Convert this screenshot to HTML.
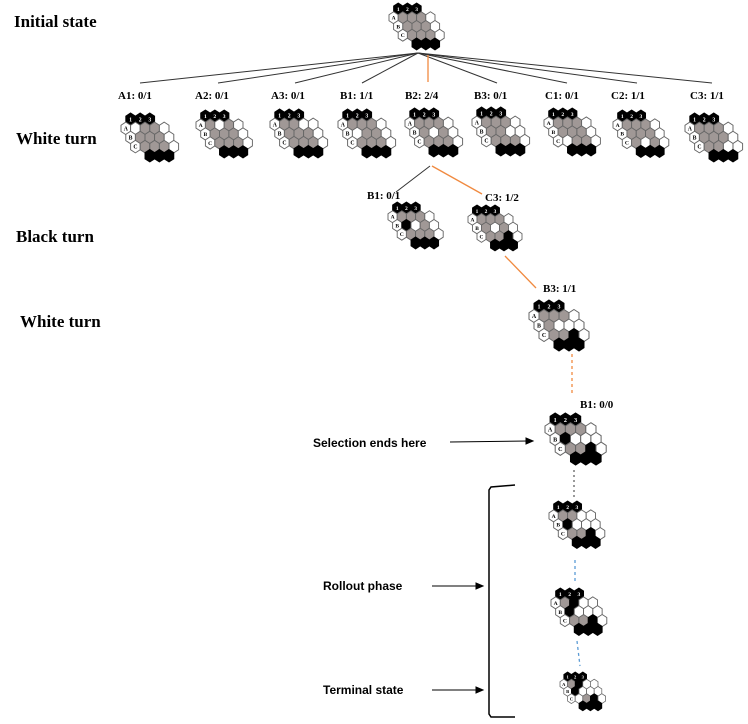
<!DOCTYPE html>
<html><head><meta charset="utf-8"><style>
html,body{margin:0;padding:0;background:#fff;width:748px;height:724px;overflow:hidden}
svg{display:block}
.t{font-family:"Liberation Serif",serif;font-weight:bold;fill:#000}
.s{font-family:"Liberation Sans",sans-serif;font-weight:bold;fill:#000;font-size:12px}
.b text{font-family:"Liberation Serif",serif;font-weight:bold;font-size:0.6px;text-anchor:middle}
.b text.w{fill:#fff}
</style></head><body>
<svg id="sv" width="748" height="724" viewBox="0 0 748 724" xmlns="http://www.w3.org/2000/svg">
<text class="t" x="14" y="27" font-size="17">Initial state</text>
<text class="t" x="16" y="144" font-size="17">White turn</text>
<text class="t" x="16" y="242" font-size="17">Black turn</text>
<text class="t" x="20" y="327" font-size="17">White turn</text>
<g stroke="#333" stroke-width="1" fill="none">
<line x1="418" y1="53" x2="140" y2="83"/><line x1="418" y1="53" x2="218" y2="83"/>
<line x1="418" y1="53" x2="295" y2="83"/><line x1="418" y1="53" x2="362" y2="83"/>
<line x1="418" y1="53" x2="497" y2="83"/><line x1="418" y1="53" x2="567" y2="83"/>
<line x1="418" y1="53" x2="637" y2="83"/><line x1="418" y1="53" x2="712" y2="83"/>
<line x1="430" y1="166" x2="396" y2="192"/>
</g>
<g stroke="#f08a40" stroke-width="1.3" fill="none">
<line x1="428" y1="55" x2="428" y2="82"/>
<line x1="432" y1="166" x2="482" y2="194"/>
<line x1="505" y1="256" x2="536" y2="288"/>
<line x1="572" y1="354" x2="572" y2="396" stroke-dasharray="3,3"/>
</g>
<line x1="574" y1="470" x2="574" y2="497" stroke="#333" stroke-dasharray="2,3"/>
<g stroke="#5b9bd5" stroke-width="1.3" stroke-dasharray="3,3">
<line x1="575" y1="560" x2="575" y2="583"/><line x1="577" y1="641" x2="580" y2="666"/>
</g>
<g class="t" font-size="11">
<text x="118" y="99">A1: 0/1</text><text x="195" y="99">A2: 0/1</text>
<text x="271" y="99">A3: 0/1</text><text x="340" y="99">B1: 1/1</text>
<text x="405" y="99">B2: 2/4</text><text x="474" y="99">B3: 0/1</text>
<text x="545" y="99">C1: 0/1</text><text x="611" y="99">C2: 1/1</text>
<text x="690" y="99">C3: 1/1</text>
<text x="367" y="199">B1: 0/1</text><text x="485" y="201">C3: 1/2</text>
<text x="543" y="292">B3: 1/1</text><text x="580" y="408">B1: 0/0</text>
</g>
<text class="s" x="313" y="447">Selection ends here</text>
<text class="s" x="323" y="590">Rollout phase</text>
<text class="s" x="323" y="694">Terminal state</text>
<g stroke="#000" stroke-width="1" fill="#000">
<line x1="450" y1="442" x2="528" y2="441"/><polygon points="533,441 526,438 526,444"/>
<line x1="432" y1="586" x2="478" y2="586"/><polygon points="483,586 476,583 476,589"/>
<line x1="432" y1="690" x2="478" y2="690"/><polygon points="483,690 476,687 476,693"/>
</g>
<path d="M515,485 L491,487 L489,490 L489,714 L491,717 L515,717" stroke="#000" stroke-width="1.5" fill="none"/>
<g class="b" id="b0"><text class="w" x="1" y="0.87">1</text><text class="w" x="2" y="0.87">2</text><text class="w" x="3" y="0.87">3</text><text x=".5" y="1.82">A</text><text x="1" y="2.77">B</text><text x="1.5" y="3.72">C</text></g>
<g class="b" id="b1"><text class="w" x="1" y="0.87">1</text><text class="w" x="2" y="0.87">2</text><text class="w" x="3" y="0.87">3</text><text x=".5" y="1.82">A</text><text x="1" y="2.77">B</text><text x="1.5" y="3.72">C</text></g>
<g class="b" id="b2"><text class="w" x="1" y="0.87">1</text><text class="w" x="2" y="0.87">2</text><text class="w" x="3" y="0.87">3</text><text x=".5" y="1.82">A</text><text x="1" y="2.77">B</text><text x="1.5" y="3.72">C</text></g>
<g class="b" id="b3"><text class="w" x="1" y="0.87">1</text><text class="w" x="2" y="0.87">2</text><text class="w" x="3" y="0.87">3</text><text x=".5" y="1.82">A</text><text x="1" y="2.77">B</text><text x="1.5" y="3.72">C</text></g>
<g class="b" id="b4"><text class="w" x="1" y="0.87">1</text><text class="w" x="2" y="0.87">2</text><text class="w" x="3" y="0.87">3</text><text x=".5" y="1.82">A</text><text x="1" y="2.77">B</text><text x="1.5" y="3.72">C</text></g>
<g class="b" id="b5"><text class="w" x="1" y="0.87">1</text><text class="w" x="2" y="0.87">2</text><text class="w" x="3" y="0.87">3</text><text x=".5" y="1.82">A</text><text x="1" y="2.77">B</text><text x="1.5" y="3.72">C</text></g>
<g class="b" id="b6"><text class="w" x="1" y="0.87">1</text><text class="w" x="2" y="0.87">2</text><text class="w" x="3" y="0.87">3</text><text x=".5" y="1.82">A</text><text x="1" y="2.77">B</text><text x="1.5" y="3.72">C</text></g>
<g class="b" id="b7"><text class="w" x="1" y="0.87">1</text><text class="w" x="2" y="0.87">2</text><text class="w" x="3" y="0.87">3</text><text x=".5" y="1.82">A</text><text x="1" y="2.77">B</text><text x="1.5" y="3.72">C</text></g>
<g class="b" id="b8"><text class="w" x="1" y="0.87">1</text><text class="w" x="2" y="0.87">2</text><text class="w" x="3" y="0.87">3</text><text x=".5" y="1.82">A</text><text x="1" y="2.77">B</text><text x="1.5" y="3.72">C</text></g>
<g class="b" id="b9"><text class="w" x="1" y="0.87">1</text><text class="w" x="2" y="0.87">2</text><text class="w" x="3" y="0.87">3</text><text x=".5" y="1.82">A</text><text x="1" y="2.77">B</text><text x="1.5" y="3.72">C</text></g>
<g class="b" id="b10"><text class="w" x="1" y="0.87">1</text><text class="w" x="2" y="0.87">2</text><text class="w" x="3" y="0.87">3</text><text x=".5" y="1.82">A</text><text x="1" y="2.77">B</text><text x="1.5" y="3.72">C</text></g>
<g class="b" id="b11"><text class="w" x="1" y="0.87">1</text><text class="w" x="2" y="0.87">2</text><text class="w" x="3" y="0.87">3</text><text x=".5" y="1.82">A</text><text x="1" y="2.77">B</text><text x="1.5" y="3.72">C</text></g>
<g class="b" id="b12"><text class="w" x="1" y="0.87">1</text><text class="w" x="2" y="0.87">2</text><text class="w" x="3" y="0.87">3</text><text x=".5" y="1.82">A</text><text x="1" y="2.77">B</text><text x="1.5" y="3.72">C</text></g>
<g class="b" id="b13"><text class="w" x="1" y="0.87">1</text><text class="w" x="2" y="0.87">2</text><text class="w" x="3" y="0.87">3</text><text x=".5" y="1.82">A</text><text x="1" y="2.77">B</text><text x="1.5" y="3.72">C</text></g>
<g class="b" id="b14"><text class="w" x="1" y="0.87">1</text><text class="w" x="2" y="0.87">2</text><text class="w" x="3" y="0.87">3</text><text x=".5" y="1.82">A</text><text x="1" y="2.77">B</text><text x="1.5" y="3.72">C</text></g>
<g class="b" id="b15"><text class="w" x="1" y="0.87">1</text><text class="w" x="2" y="0.87">2</text><text class="w" x="3" y="0.87">3</text><text x=".5" y="1.82">A</text><text x="1" y="2.77">B</text><text x="1.5" y="3.72">C</text></g>
<g class="b" id="b16"><text class="w" x="1" y="0.87">1</text><text class="w" x="2" y="0.87">2</text><text class="w" x="3" y="0.87">3</text><text x=".5" y="1.82">A</text><text x="1" y="2.77">B</text><text x="1.5" y="3.72">C</text></g>
</svg>
<script>
var B=[
[389,3,9.2,"ggggggggg"],
[121,113,9.6,"wgggggggg"],[196,110,9.4,"gwggggggg"],[270,109,9.6,"ggwgggggg"],
[338,109,9.6,"gggwggggg"],[405,108,9.6,"ggggwgggg"],[472,107,9.6,"gggggwggg"],
[544,108,9.4,"ggggggwgg"],[613,110,9.3,"gggggggwg"],[685,113,9.6,"ggggggggw"],
[388,202,9.2,"gggbwgggg"],[468,205,9.0,"ggggwgggb"],
[529,300,10,"ggggwwggb"],
[545,413,10.2,"gggbwwggb"],
[549,501,9.3,"ggwbwwggb"],[551,588,9.3,"gbwbwwggb"],[560,672,7.6,"gbwbwwwgb"]
];
var NS="http://www.w3.org/2000/svg";
var H=1.3,R=0.95;
function hex(cx,cy,f){var p=[],i;for(i=0;i<6;i++){var a=Math.PI/3*i-Math.PI/2;p.push((cx+0.5*Math.cos(a)/0.866).toFixed(3)+","+(cy+H/2*Math.sin(a)).toFixed(3));}
var e=document.createElementNS(NS,"polygon");e.setAttribute("points",p.join(" "));e.setAttribute("fill",f);e.setAttribute("stroke",f=="#000"?"#000":"#666");e.setAttribute("stroke-width","0.1");return e;}
var col={g:"#a09896",w:"#fff",b:"#000"};
B.forEach(function(b,k){
var g=document.getElementById("b"+k);g.setAttribute("transform","translate("+b[0]+","+b[1]+") scale("+b[2]+")");
var frag=document.createDocumentFragment();
function cy(r){return H/2+r*R;}
var i,r,j;
for(i=0;i<3;i++)frag.appendChild(hex(i+1,cy(0),"#000"));
for(r=1;r<=3;r++){var a=0.5*r;frag.appendChild(hex(a,cy(r),"#fff"));
for(j=0;j<3;j++)frag.appendChild(hex(a+1+j,cy(r),col[b[3][(r-1)*3+j]]));
frag.appendChild(hex(a+4,cy(r),"#fff"));}
for(i=0;i<3;i++)frag.appendChild(hex(i+3,cy(4),"#000"));
g.insertBefore(frag,g.firstChild);
});
</script>
</body></html>
